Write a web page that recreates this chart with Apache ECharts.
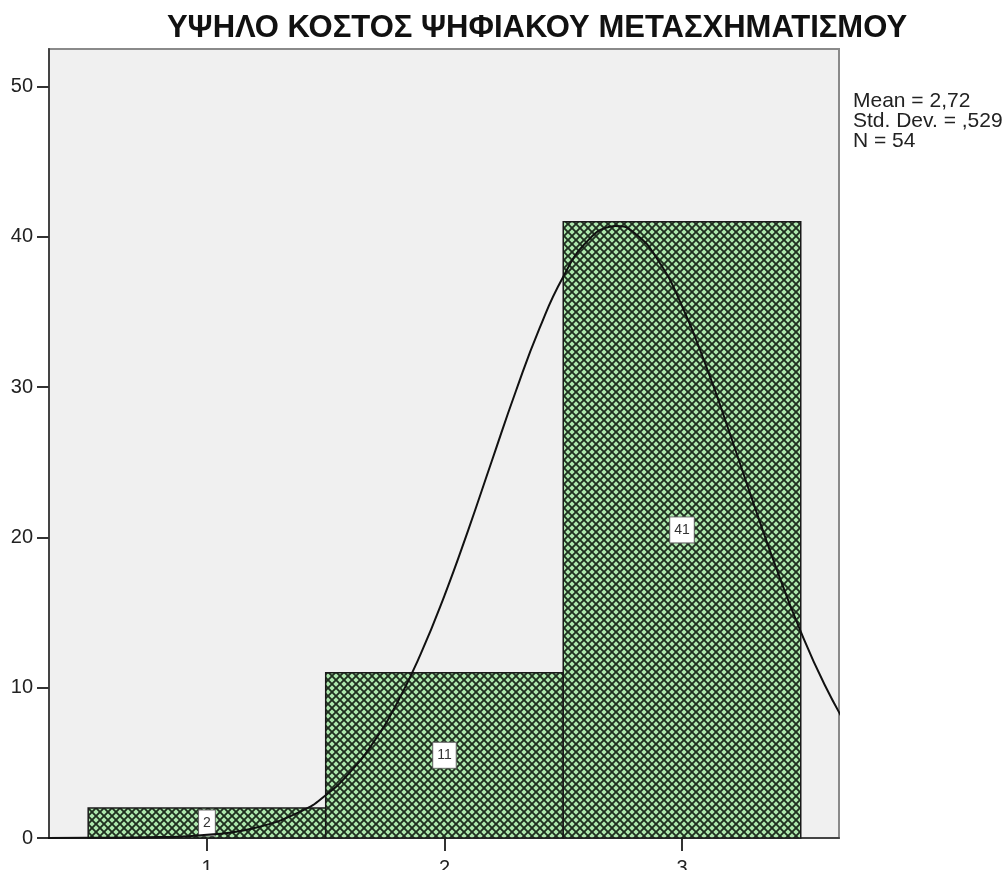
<!DOCTYPE html>
<html>
<head>
<meta charset="utf-8">
<style>
  html, body { margin: 0; padding: 0; background: #fff; }
  #chart { width: 1004px; height: 870px; }
</style>
<script src="https://cdn.jsdelivr.net/npm/echarts@6/dist/echarts.min.js"></script>
</head>
<body>
<div id="chart"></div>
<script>
// histogram bins and counts
const binStart = [0.5, 1.5, 2.5];
const binEnd = [1.5, 2.5, 3.5];
const counts = [2, 11, 41];

// normal curve
const curveX = [0.3, 0.5, 0.8, 1.0, 1.2, 1.4, 1.5, 1.6, 1.7, 1.8, 1.9, 2.0, 2.1, 2.2, 2.3, 2.4, 2.5, 2.6, 2.7, 2.72, 2.8, 2.9, 3.0, 3.1, 3.2, 3.3, 3.4, 3.5, 3.6, 3.7];
const curveY = [0.0, 0.01, 0.06, 0.21, 0.66, 1.81, 2.85, 4.33, 6.34, 8.97, 12.25, 16.13, 20.49, 25.12, 29.71, 33.91, 37.35, 39.69, 40.69, 40.72, 40.26, 38.43, 35.40, 31.46, 26.98, 22.32, 17.82, 13.73, 10.21, 7.3];

const xTicks = [1, 2, 3];
const yTicks = [0, 10, 20, 30, 40, 50];

const title = 'ΥΨΗΛΟ ΚΟΣΤΟΣ ΨΗΦΙΑΚΟΥ ΜΕΤΑΣΧΗΜΑΤΙΣΜΟΥ';
const stats = ['Mean = 2,72', 'Std. Dev. = ,529', 'N = 54'];

// diagonal crosshatch fill like SPSS (light green diamonds, dark mesh)
function makeHatch() {
  const c = document.createElement('canvas');
  c.width = 8; c.height = 8;
  const g = c.getContext('2d');
  g.fillStyle = '#aee8ae';
  g.fillRect(0, 0, 8, 8);
  g.strokeStyle = '#1f2f1f';
  g.lineWidth = 1.9;
  g.beginPath();
  g.moveTo(-1, -1); g.lineTo(9, 9);
  g.moveTo(-1, 9); g.lineTo(9, -1);
  g.stroke();
  return c;
}
const hatch = makeHatch();

const binData = counts.map((v, i) => [binStart[i], binEnd[i], v]);
const curveData = curveX.map((x, i) => [x, curveY[i]]);

const chart = echarts.init(document.getElementById('chart'));

const font = '"Liberation Sans", Arial, sans-serif';

chart.setOption({
  animation: false,
  grid: {
    left: 49, top: 49, right: 165, bottom: 32,
    outerBoundsMode: 'none',
    show: true,
    backgroundColor: '#f0f0f0',
    borderColor: '#8a8a8a',
    borderWidth: 2
  },
  xAxis: {
    type: 'value',
    min: 0.335,
    max: 3.661,
    axisLine: { show: true, onZero: false, lineStyle: { color: '#444', width: 2 } },
    axisTick: { show: true, length: 13, customValues: xTicks, lineStyle: { color: '#333', width: 2 } },
    axisLabel: { customValues: xTicks, margin: 20, fontSize: 20, color: '#222', fontFamily: font },
    splitLine: { show: false }
  },
  yAxis: {
    type: 'value',
    min: 0,
    max: 52.5,
    axisLine: { show: true, lineStyle: { color: '#444', width: 2 } },
    axisTick: { show: true, length: 12, customValues: yTicks, lineStyle: { color: '#333', width: 2 } },
    axisLabel: { customValues: yTicks, margin: 16, fontSize: 20, color: '#222', fontFamily: font },
    splitLine: { show: false }
  },
  graphic: [
    {
      type: 'text', x: 537, y: 13,
      style: { text: title, align: 'center', font: 'bold 31px ' + font, fill: '#111' }
    },
    {
      type: 'text', x: 853, y: 91,
      style: { text: stats.join('\n'), font: '21px ' + font, lineHeight: 20, fill: '#222' }
    }
  ],
  series: [
    {
      type: 'custom',
      data: binData,
      encode: { x: [0, 1], y: 2 },
      renderItem: function (params, api) {
        const p0 = api.coord([api.value(0), api.value(2)]);
        const p1 = api.coord([api.value(1), 0]);
        const mid = api.coord([(api.value(0) + api.value(1)) / 2, api.value(2) / 2]);
        return {
          type: 'group',
          children: [
            {
              type: 'rect',
              shape: { x: p0[0], y: p0[1], width: p1[0] - p0[0], height: p1[1] - p0[1] },
              style: { fill: { image: hatch, repeat: 'repeat' }, stroke: '#1a1a1a', lineWidth: 1.5 }
            },
            {
              type: 'text', x: mid[0], y: mid[1],
              style: {
                text: String(api.value(2)), align: 'center', verticalAlign: 'middle',
                font: '14px ' + font, fill: '#333',
                backgroundColor: '#fff', borderColor: '#666', borderWidth: 1,
                padding: [6, 4, 5, 4]
              }
            }
          ]
        };
      }
    },
    {
      type: 'line',
      data: curveData,
      smooth: true,
      symbol: 'none',
      lineStyle: { color: '#111', width: 2 },
      z: 5
    }
  ]
});
</script>
</body>
</html>
